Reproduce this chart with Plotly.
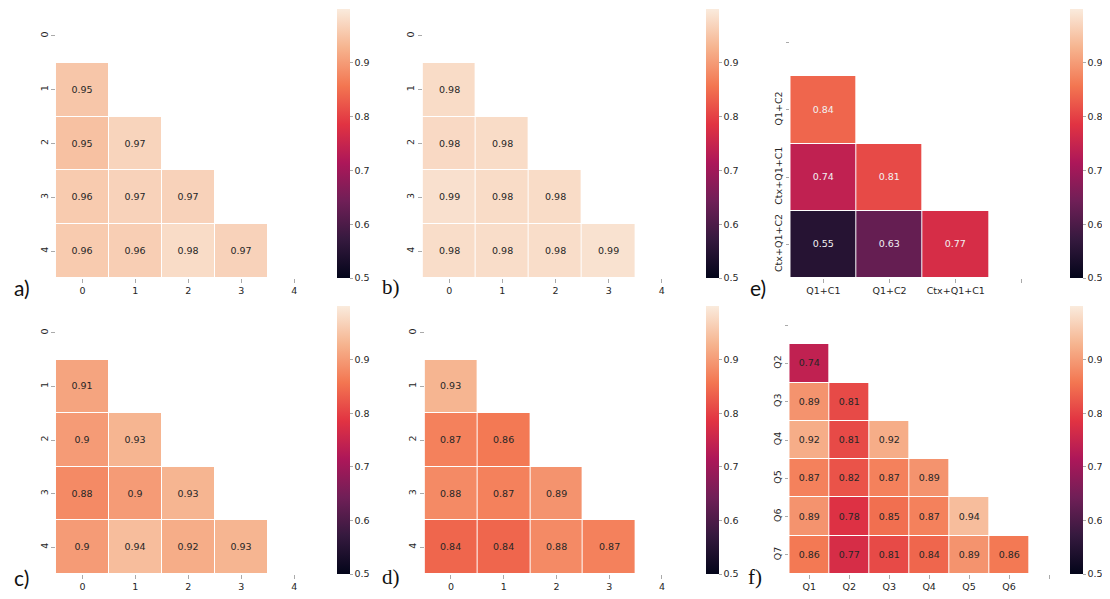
import plotly.graph_objects as go

# page has an 8px body margin: figure is drawn from (8, 8) in the window
OFF = 8
W, H = 1110 - 2 * OFF, 599 - 2 * OFF

# ---------------- data ----------------
num_labels5 = ["0", "1", "2", "3", "4"]

vals_a = [
    [None, None, None, None, None],
    [0.952, None, None, None, None],
    [0.946, 0.970, None, None, None],
    [0.958, 0.968, 0.968, None, None],
    [0.958, 0.962, 0.980, 0.968, None],
]
vals_b = [
    [None, None, None, None, None],
    [0.980, None, None, None, None],
    [0.977, 0.980, None, None, None],
    [0.986, 0.980, 0.980, None, None],
    [0.982, 0.982, 0.982, 0.988, None],
]
vals_c = [
    [None, None, None, None, None],
    [0.91, None, None, None, None],
    [0.90, 0.93, None, None, None],
    [0.88, 0.90, 0.93, None, None],
    [0.90, 0.94, 0.92, 0.93, None],
]
vals_d = [
    [None, None, None, None, None],
    [0.93, None, None, None, None],
    [0.87, 0.86, None, None, None],
    [0.88, 0.87, 0.89, None, None],
    [0.84, 0.84, 0.88, 0.87, None],
]
e_x_labels = ["Q1+C1", "Q1+C2", "Ctx+Q1+C1", ""]
e_y_labels = ["", "Q1+C2", "Ctx+Q1+C1", "Ctx+Q1+C2"]
vals_e = [
    [None, None, None, None],
    [0.84, None, None, None],
    [0.74, 0.81, None, None],
    [0.55, 0.63, 0.77, None],
]
f_x_labels = ["Q1", "Q2", "Q3", "Q4", "Q5", "Q6", ""]
f_y_labels = ["", "Q2", "Q3", "Q4", "Q5", "Q6", "Q7"]
vals_f = [
    [None, None, None, None, None, None, None],
    [0.74, None, None, None, None, None, None],
    [0.89, 0.81, None, None, None, None, None],
    [0.92, 0.81, 0.92, None, None, None, None],
    [0.87, 0.82, 0.87, 0.89, None, None, None],
    [0.89, 0.78, 0.85, 0.87, 0.94, None, None],
    [0.86, 0.77, 0.81, 0.84, 0.89, 0.86, None],
]

rocket = [
    [0.0, "#03051A"], [0.143, "#35193E"], [0.286, "#701F57"],
    [0.429, "#AD1759"], [0.571, "#E13342"], [0.714, "#F37651"],
    [0.857, "#F6B48F"], [1.0, "#FAEBDD"],
]

def fmt(v):
    if v is None:
        return ""
    s = f"{v:.2f}"
    if s.endswith("0"):
        s = s[:-1]
    return s

def fx(px):
    return (px - OFF) / W

def fy(py):
    return 1 - (py - OFF) / H

# panels: (values, xlabels, ylabels, plot box in window px [x0,x1,y0,y1], colorbar left px, text colour, label, label font, label pos)
panels = [
    (vals_a, num_labels5, num_labels5, (56, 321, 9, 278), 337, "#262626", "a)", "Lato", (12, 287)),
    (vals_b, num_labels5, num_labels5, (423, 689, 9, 278), 706, "#262626", "b)", "Liberation Serif", (380, 287)),
    (vals_e, e_x_labels, e_y_labels, (791, 1056, 9, 278), 1070, "#f2f2f2", "e)", "Lato", (749, 287)),
    (vals_c, num_labels5, num_labels5, (56, 321, 306, 574), 337, "#262626", "c)", "Lato", (12, 577)),
    (vals_d, num_labels5, num_labels5, (425, 689, 306, 574), 706, "#262626", "d)", "Liberation Serif", (380, 577)),
    (vals_f, f_x_labels, f_y_labels, (790, 1070, 306, 574), 1070, "#262626", "f)", "Liberation Serif", (747, 577)),
]

fig = go.Figure()
annotations = []
for i, (vals, xl, yl, box, cbx, tcol, lab, labfont, lpos) in enumerate(panels):
    n_r = len(vals)
    n_c = len(vals[0])
    x0, x1, y0, y1 = box
    sfx = "" if i == 0 else str(i + 1)
    xa = "x" + sfx
    ya = "y" + sfx
    text = [[fmt(v) for v in row] for row in vals]
    fig.add_trace(go.Heatmap(
        z=vals,
        x=list(range(n_c)),
        y=list(range(n_r)),
        text=text,
        texttemplate="%{text}",
        textfont=dict(family="DejaVu Sans", size=9.5, color=tcol),
        colorscale=rocket,
        zmin=0.5, zmax=1.0,
        xgap=1, ygap=1,
        hoverinfo="skip",
        xaxis=xa, yaxis=ya,
        colorbar=dict(
            x=fx(cbx), xanchor="left", xref="paper",
            y=fy(y0), yanchor="top", len=(y1 - y0) / H, lenmode="fraction",
            thickness=13, outlinewidth=0, xpad=0, ypad=0,
            tickvals=[0.5, 0.6, 0.7, 0.8, 0.9],
            ticktext=["0.5", "0.6", "0.7", "0.8", "0.9"],
            ticks="outside", ticklen=3, tickcolor="#aaaaaa", tickwidth=1,
            tickfont=dict(family="DejaVu Sans", size=9.5, color="#262626"),
        ),
    ))
    axcommon = dict(showgrid=False, zeroline=False, showline=False,
                    ticks="outside", ticklen=3.5, tickcolor="#aaaaaa", tickwidth=1,
                    tickfont=dict(family="DejaVu Sans", size=9.5, color="#262626"))
    fig.layout["xaxis" + sfx] = dict(
        domain=[fx(x0), fx(x1)], anchor=ya,
        range=[-0.5, n_c - 0.5],
        tickmode="array", tickvals=list(range(n_c)), ticktext=xl,
        **axcommon)
    fig.layout["yaxis" + sfx] = dict(
        domain=[fy(y1), fy(y0)], anchor=xa,
        range=[n_r - 0.5, -0.5],
        tickmode="array", tickvals=list(range(n_r)), ticktext=yl,
        tickangle=-90,
        **axcommon)
    annotations.append(dict(
        text=lab, xref="paper", yref="paper",
        x=fx(lpos[0]), y=fy(lpos[1]), xanchor="left", yanchor="middle",
        showarrow=False, font=dict(family=labfont, size=21, color="#111111")))

fig.update_layout(
    width=W, height=H,
    margin=dict(l=0, r=0, t=0, b=0),
    paper_bgcolor="white", plot_bgcolor="white",
    annotations=annotations,
    showlegend=False,
)

fig.write_html("out.html")
